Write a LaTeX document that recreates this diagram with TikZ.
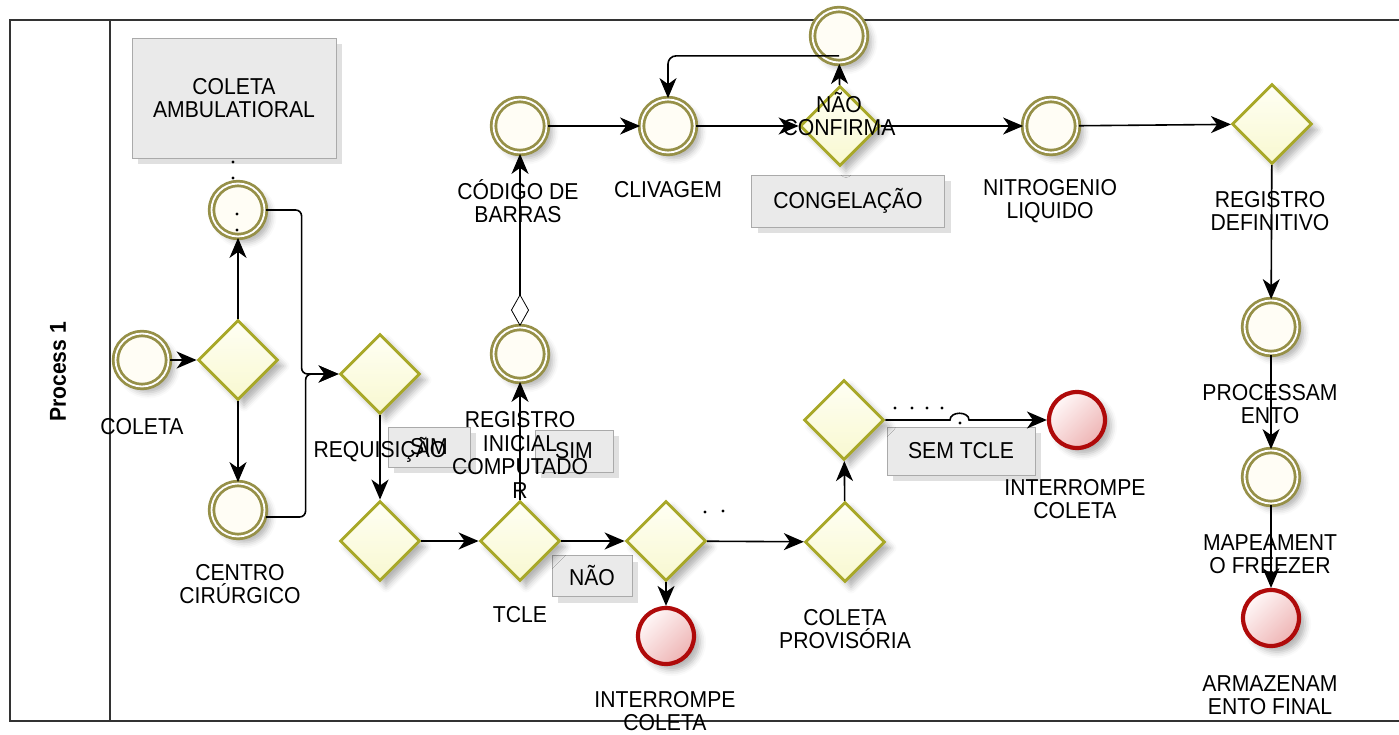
\documentclass[tikz,border=0pt]{standalone}
\usepackage{fontspec}
\setmainfont{Liberation Sans}[FakeStretch=0.92]
\usetikzlibrary{shapes.geometric,arrows.meta,shadows.blur}
\definecolor{gwline}{RGB}{168,168,40}
\definecolor{gwtop}{RGB}{255,255,244}
\definecolor{gwbot}{RGB}{248,248,208}
\definecolor{evline}{RGB}{150,144,72}
\definecolor{evfill}{RGB}{255,253,245}
\definecolor{endline}{RGB}{175,10,10}
\definecolor{endlight}{RGB}{255,248,248}
\definecolor{enddark}{RGB}{238,180,180}
\definecolor{boxfill}{RGB}{234,234,234}
\definecolor{boxline}{RGB}{170,170,170}
\newcommand{\lblsize}{\fontsize{23}{23.5}\selectfont}
\newcommand{\lanesize}{\fontsize{23}{24}\selectfont\bfseries}
\begin{document}
\begin{tikzpicture}[x=1pt, y=-1pt,
  shsoft/.style={blur shadow={shadow xshift=6pt, shadow yshift=-6pt,
      shadow blur radius=6pt, shadow opacity=30}},
  boxshadow/.style={drop shadow={shadow xshift=6pt, shadow yshift=-6pt,
      fill=black, opacity=0.12}},
  gate/.style={diamond, aspect=1, minimum width=80pt, minimum height=80pt,
      inner sep=0pt, draw=gwline, line width=2.8pt,
      top color=gwtop, bottom color=gwbot, shsoft},
  ievent/.style={circle, minimum size=53pt, inner sep=0pt, draw=evline,
      line width=2.8pt, double=white, double distance=1.8pt, fill=evfill, shsoft},
  endev/.style={circle, minimum size=56pt, inner sep=0pt, draw=endline,
      line width=4.2pt, shading=axis, top color=endlight, bottom color=enddark,
      shading angle=45, shsoft},
  notebox/.style={rectangle, draw=boxline, line width=0.8pt, fill=boxfill,
      inner sep=0pt, align=center, font=\lblsize, boxshadow},
  lbl/.style={align=center, inner sep=0pt, font=\lblsize},
  tipx/.tip={Stealth[length=20pt, width=17pt, inset=6pt]},
  flow/.style={draw=black, line width=1.6pt, -tipx},
  dot/.style={fill=black}]
\useasboundingbox (0,0) rectangle (1399,735);

% pool and lane
\draw[line width=1.3pt, draw=black!80] (1399,20) -- (10,20) -- (10,721) -- (1399,721);
\draw[line width=1.3pt, draw=black!80] (110,20) -- (110,721);
\node[rotate=90, font=\lanesize, inner sep=0pt] (lane) at (58,372) {Process 1};

% text annotations
\node[notebox, minimum width=204pt, minimum height=120pt] (bamb) at (234,98) {COLETA\\AMBULATIORAL};
\node[notebox, minimum width=82pt, minimum height=40pt] (bsim1) at (429,447) {SIM};
\node[notebox, minimum width=78pt, minimum height=42pt] (bsim2) at (574,451) {SIM};
\node[notebox, minimum width=80pt, minimum height=41pt] (bnao) at (592,576) {NÃO};
\node[notebox, minimum width=193pt, minimum height=52pt] (bcong) at (848,201) {CONGELAÇÃO};
\node[notebox, minimum width=148pt, minimum height=48pt] (bsem) at (961,451) {SEM TCLE};

% events and gateways
\node[ievent] (start) at (142,360) {};
\node[gate] (g1) at (238,360) {};
\node[ievent] (amb) at (238,210) {};
\node[ievent] (centro) at (238,510) {};
\node[gate] (req) at (380,374) {};
\node[gate] (g3) at (380,541) {};
\node[gate] (tcle) at (520,541) {};
\node[ievent] (reginic) at (520,354) {};
\node[ievent] (codigo) at (520,126) {};
\node[ievent] (cliv) at (668,126) {};
\node[gate] (naoconf) at (840,126) {};
\node[ievent] (topev) at (839,36) {};
\node[ievent] (nitro) at (1051,126) {};
\node[gate] (regdef) at (1272,124) {};
\node[ievent] (proc) at (1271,327) {};
\node[ievent] (mape) at (1271,477) {};
\node[endev] (armaz) at (1271,618) {};
\node[gate] (g5) at (666,541) {};
\node[endev] (int1) at (666,636) {};
\node[gate] (colprov) at (845,542) {};
\node[gate] (semg) at (844,420) {};
\node[endev] (int2) at (1077,420) {};

% labels
\node[lbl] (lstart) at (142,427) {COLETA};
\node[lbl] (lcentro) at (240,584) {CENTRO\\CIRÚRGICO};
\node[lbl] (lreq) at (380,450) {REQUISIÇÃO};
\node[lbl] (lreg) at (520,455) {REGISTRO\\INICIAL\\COMPUTADO\\R};
\node[lbl] (ltcle) at (520,615) {TCLE};
\node[lbl] (lcod) at (518,201) {CÓDIGO DE\\BARRAS};
\node[lbl] (lcliv) at (668,190) {CLIVAGEM};
\node[lbl] (lnao) at (839,114) {NÃO\\CONFIRMA};
\node[lbl] (lnitro) at (1050,201) {NITROGENIO\\LIQUIDO};
\node[lbl] (lregdef) at (1270,211) {REGISTRO\\DEFINITIVO};
\node[lbl] (lproc) at (1270,404) {PROCESSAM\\ENTO};
\node[lbl] (lmape) at (1270,554) {MAPEAMENT\\O FREEZER};
\node[lbl] (larmaz) at (1270,695) {ARMAZENAM\\ENTO FINAL};
\node[lbl] (lint1) at (665,711) {INTERROMPE\\COLETA};
\node[lbl] (lint2) at (1075,499) {INTERROMPE\\COLETA};
\node[lbl] (lcolprov) at (845,629) {COLETA\\PROVISÓRIA};

% sequence flows
\draw[flow] (start) -- (g1);
\draw[flow] (g1) -- (amb);
\draw[flow] (g1) -- (centro);
\draw[flow, rounded corners=6pt] (amb.east) -| ([xshift=-37pt]req.west) -- (req.west);
\draw[flow, rounded corners=6pt] ([yshift=-7pt]centro.east) -| ([xshift=-33pt]req.west) -- (req.west);
\draw[flow] (req) -- (g3);
\draw[flow] (g3) -- (tcle);
\draw[flow] (tcle) -- (reginic);
\draw[line width=1.6pt, {Diamond[open, length=32pt, width=18pt, line width=0.8pt]}-tipx]
  (reginic.north) -- (codigo.south);
\draw[flow] (codigo) -- (cliv);
\draw[flow] (cliv) -- (naoconf);
\draw[flow] (naoconf) -- (topev);
\draw[flow, rounded corners=8pt] ([yshift=8pt]topev.south) -| (cliv.north);
\draw[flow] (naoconf) -- (nitro);
\draw[flow] (nitro) -- (regdef);
\draw[flow] (regdef) -- (proc);
\draw[flow] (proc) -- (mape);
\draw[flow] (mape) -- (armaz);
\draw[flow] (tcle) -- (g5);
\draw[flow] (g5) -- (int1);
\draw[flow] (g5) -- (colprov);
\draw[flow] (colprov) -- (semg);
\draw[flow] (semg.east) -- (950,420) .. controls (950,411) and (969,411) .. (969,420) -- (int2.west);

% stray waypoint dots
\foreach \p in {(233,162),(233,178),(237,214),(237,230),(705,512),(723,511),
                (895,408),(912,408),(927,408),(942,408),(960,423)}
  \fill[dot] \p circle[radius=1.6pt];
\end{tikzpicture}
\end{document}
